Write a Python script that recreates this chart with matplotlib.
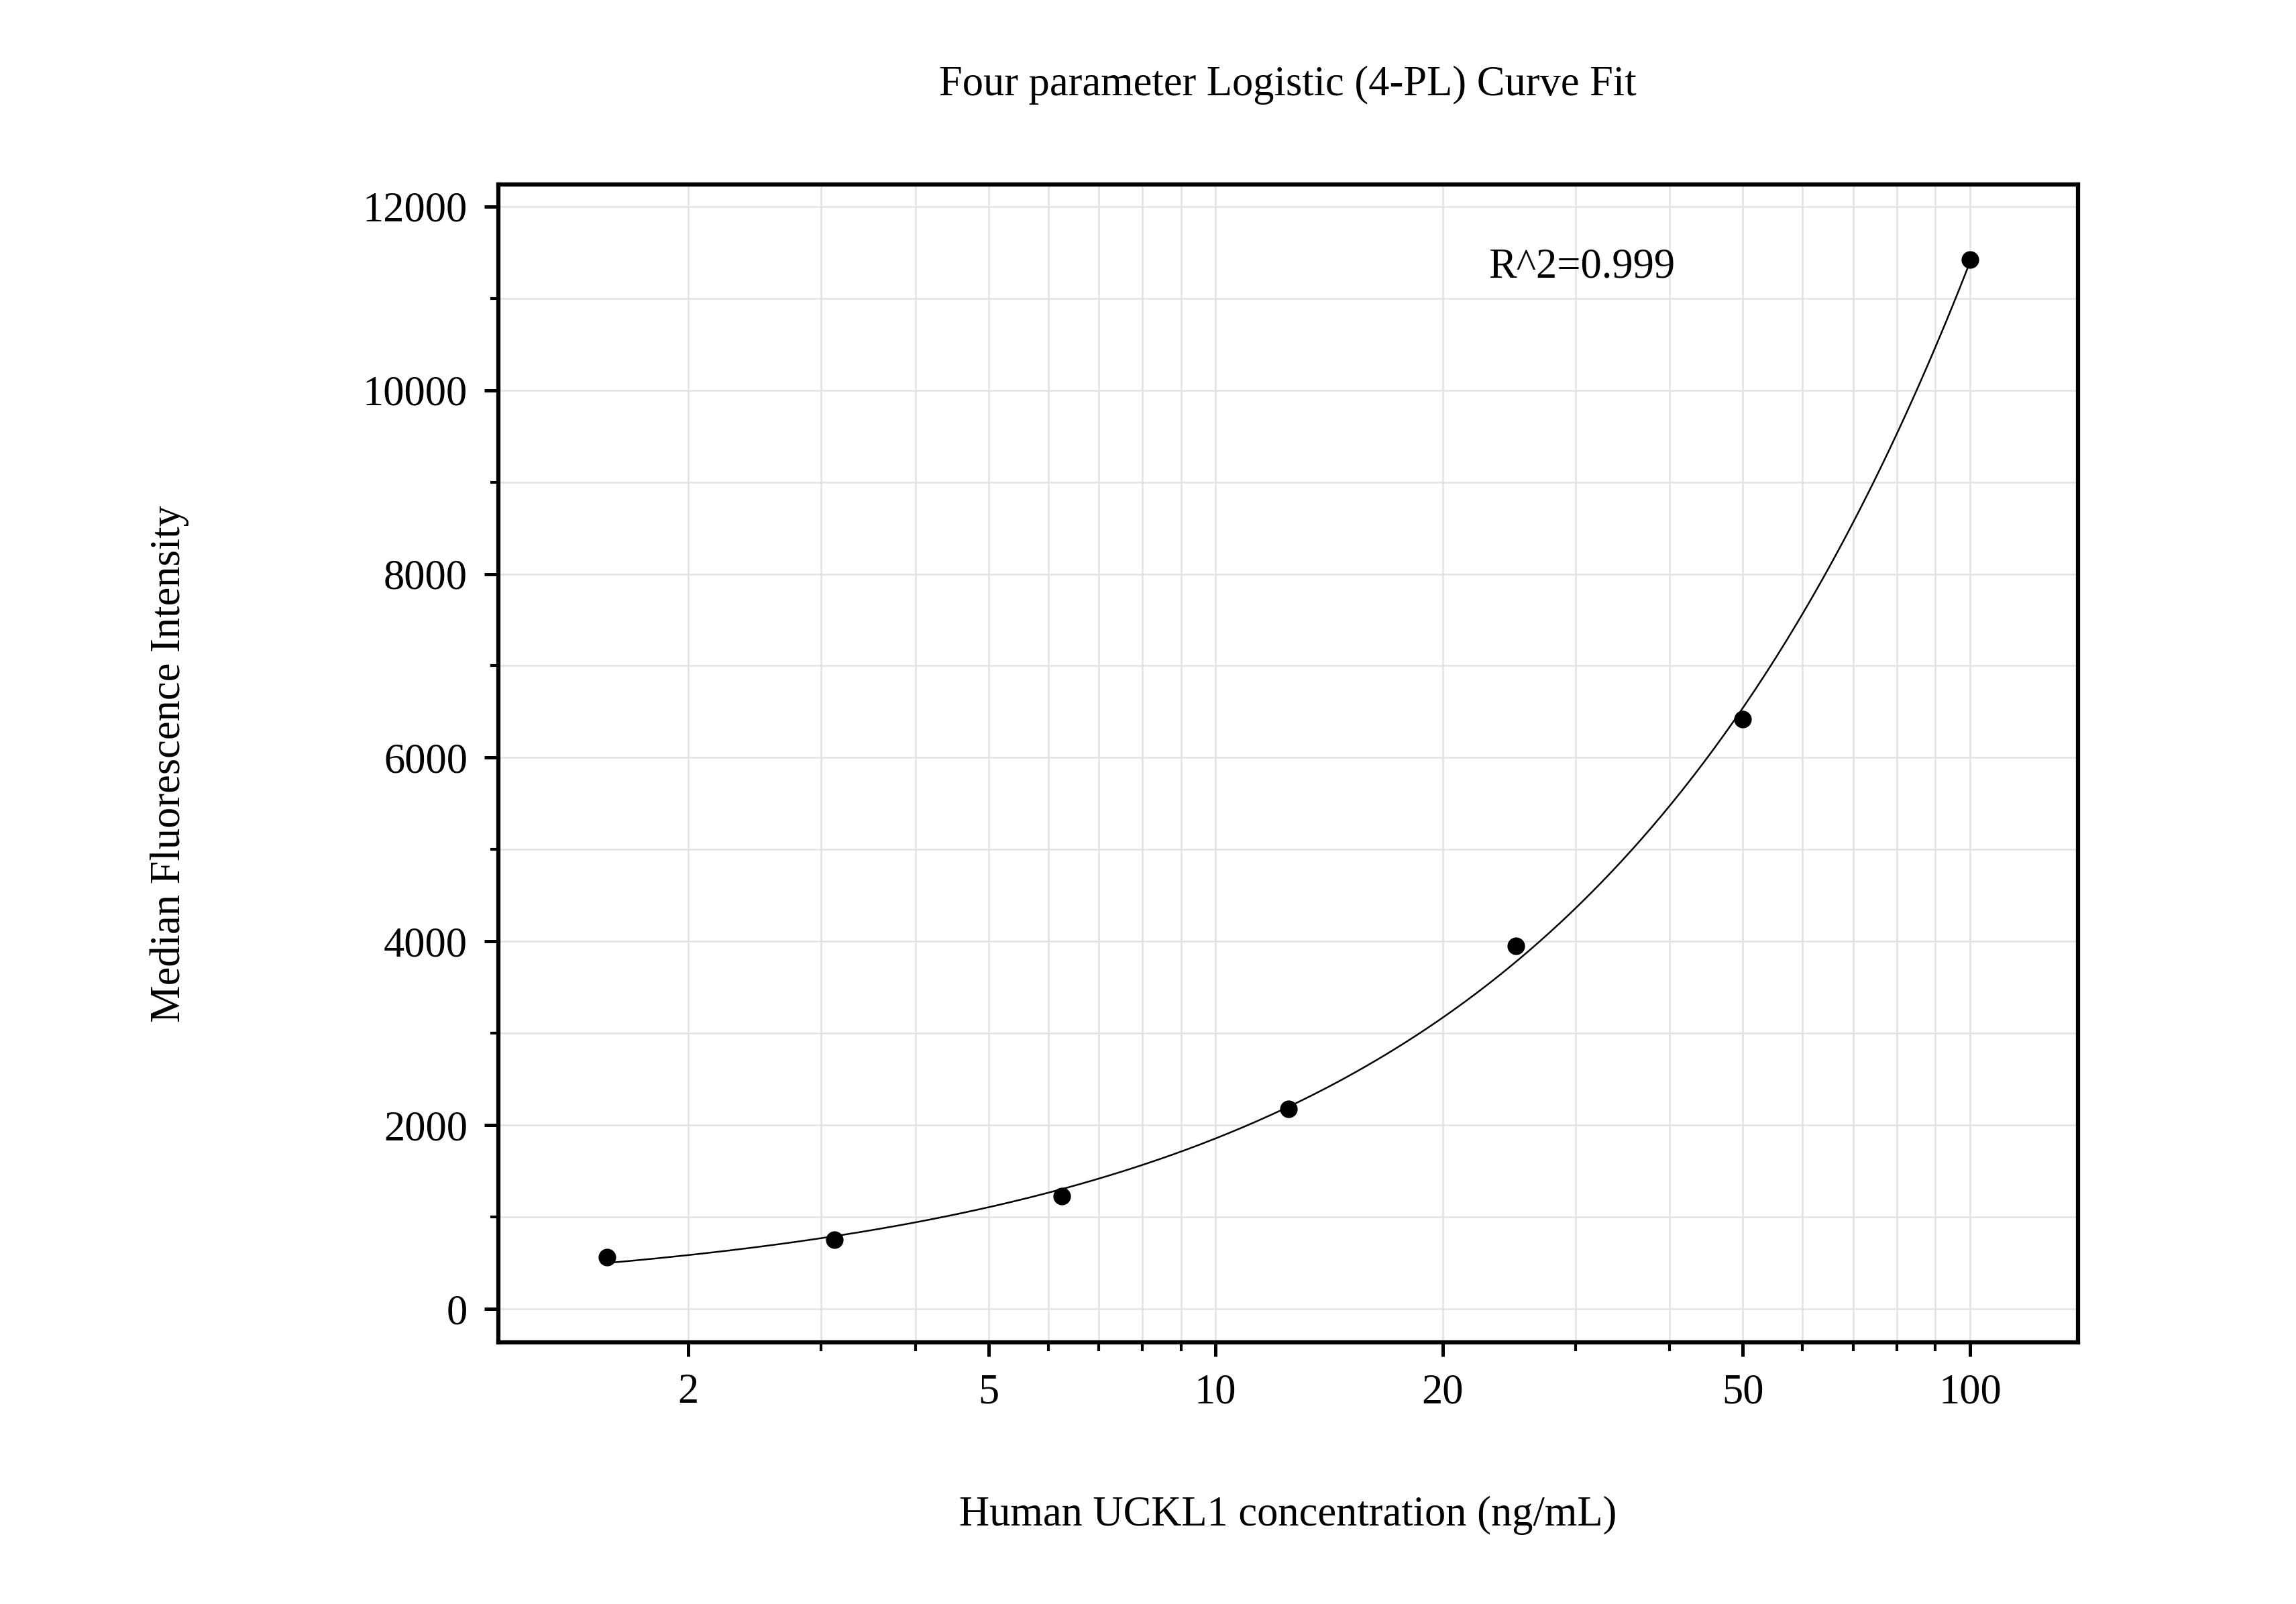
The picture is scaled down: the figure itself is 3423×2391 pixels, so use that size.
import numpy as np
import matplotlib
matplotlib.use("Agg")
import matplotlib.pyplot as plt
from matplotlib.ticker import FixedLocator, NullFormatter, MultipleLocator

conc = [1.5625, 3.125, 6.25, 12.5, 25, 50, 100]
mfi = [560, 750, 1230, 2180, 3950, 6420, 11420]
xtick_vals = [2, 5, 10, 20, 50, 100]
ytick_vals = [0, 2000, 4000, 6000, 8000, 10000, 12000]

x = np.array(conc, float); y = np.array(mfi, float)

def f(p, xx):
    A, B, C, D = p[0], p[1], np.exp(p[2]), p[3]
    return D + (A - D) / (1 + (xx / C) ** B)

# Levenberg-Marquardt 4PL fit
p = np.array([400.0, 1.3, np.log(200.0), 30000.0])
lam = 1e-2
def sse(p): return np.sum((f(p, x) - y) ** 2)
for _ in range(5000):
    r = f(p, x) - y
    J = np.zeros((len(x), 4))
    for k in range(4):
        dp = np.zeros(4); h = 1e-6 * max(1, abs(p[k])); dp[k] = h
        J[:, k] = (f(p + dp, x) - f(p - dp, x)) / (2 * h)
    Hm = J.T @ J; g = J.T @ r
    step = np.linalg.solve(Hm + lam * np.diag(np.diag(Hm) + 1e-12), -g)
    pn = p + step
    if np.all(np.isfinite(pn)) and sse(pn) < sse(p):
        p = pn; lam *= 0.5
    else:
        lam *= 4
    if lam > 1e12: break

FS = 15
FF = 'Liberation Serif'
fig = plt.figure(figsize=(11.41, 7.97), dpi=300)
ax = fig.add_axes([0.217, 0.163, 0.688, 0.722])
xs = np.logspace(np.log10(1.5625), 2, 400)
ax.plot(xs, f(p, xs), color='black', lw=0.6)
ax.scatter(conc, mfi, s=28, color='black', zorder=3)
ax.set_xscale('log')
ax.set_xlim(1.12, 139)
ax.set_ylim(-366, 12239)
ax.xaxis.set_major_locator(FixedLocator(xtick_vals))
ax.set_xticklabels([str(v) for v in xtick_vals], fontfamily=FF, fontsize=FS)
ax.xaxis.set_minor_locator(FixedLocator([v for d in [1, 10] for v in np.arange(2, 10) * d if v not in xtick_vals]))
ax.xaxis.set_minor_formatter(NullFormatter())
ax.yaxis.set_major_locator(FixedLocator(ytick_vals))
ax.set_yticklabels([str(v) for v in ytick_vals], fontfamily=FF, fontsize=FS)
ax.yaxis.set_minor_locator(MultipleLocator(1000))
ax.grid(True, which='both', color='#e3e3e3', lw=0.6)
ax.set_axisbelow(True)
ax.tick_params(which='major', length=5, width=1.2, direction='out', pad=6)
ax.tick_params(which='minor', length=3, width=1, direction='out')
for s in ax.spines.values(): s.set_linewidth(1.5)
ax.set_xlabel('Human UCKL1 concentration (ng/mL)', fontfamily=FF, fontsize=FS, labelpad=30)
ax.set_ylabel('Median Fluorescence Intensity', fontfamily=FF, fontsize=FS, labelpad=62)
ax.set_title('Four parameter Logistic (4-PL) Curve Fit', fontfamily=FF, fontsize=FS, pad=32)
ax.text(0.627, 0.92, 'R^2=0.999', transform=ax.transAxes, fontfamily=FF, fontsize=FS)
fig.savefig('out.png', dpi=300)
